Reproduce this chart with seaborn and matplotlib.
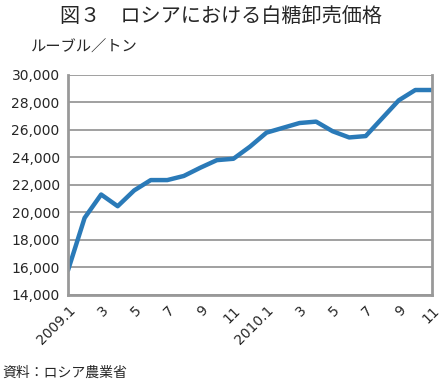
import pandas as pd
import seaborn as sns
import matplotlib.pyplot as plt

# monthly white sugar wholesale price, 2009.1 - 2010.11 (rubles / ton)
months = ["2009.1", "2", "3", "4", "5", "6", "7", "8", "9", "10", "11", "12",
          "2010.1", "2", "3", "4", "5", "6", "7", "8", "9", "10", "11"]
prices = [15800, 19600, 21300, 20450, 21600, 22350, 22350, 22650, 23250, 23800, 23900, 24780,
          25800, 26150, 26500, 26600, 25900, 25450, 25550, 26850, 28150, 28900, 28900]
yticks = [14000, 16000, 18000, 20000, 22000, 24000, 26000, 28000, 30000]

sns.set_style("white")
plt.rcParams["font.family"] = ["Noto Sans CJK JP", "DejaVu Sans"]

df = pd.DataFrame({"pos": range(len(months)), "price": prices})

fig = plt.figure(figsize=(4.42, 3.84), dpi=100)
ax = fig.add_axes([0.154, 0.232, 0.823, 0.573])

sns.lineplot(x="pos", y="price", data=df, ax=ax, color="#2a7ab8", linewidth=3.2)

ax.set_xlim(0, len(months) - 1)
ax.set_ylim(14000, 30000)
ax.set_yticks(yticks)
ax.set_yticklabels([f"{v:,}" for v in yticks], fontsize=10, family="DejaVu Sans")
ax.set_xticks(df["pos"])
ax.set_xticklabels([m if i % 2 == 0 else "" for i, m in enumerate(months)],
                   rotation=45, ha="right", rotation_mode="anchor", fontsize=10,
                   family="DejaVu Sans")
ax.tick_params(axis="both", direction="out", length=4, width=1, color="#888888", pad=2)
ax.grid(axis="y", color="#999999", linewidth=1.3)
for side in ["left", "bottom", "right"]:
    ax.spines[side].set_color("#999999")
    ax.spines[side].set_linewidth(2)
ax.spines["top"].set_visible(False)
ax.set_xlabel("")
ax.set_ylabel("")

fig.text(0.5, 0.958, "図３　ロシアにおける白糖卸売価格", ha="center", va="center", fontsize=14.5)
fig.text(0.07, 0.877, "ルーブル／トン", ha="left", va="center", fontsize=11)
fig.text(0.005, 0.03, "資料：ロシア農業省", ha="left", va="center", fontsize=10)

plt.savefig("out.png", dpi=100)
